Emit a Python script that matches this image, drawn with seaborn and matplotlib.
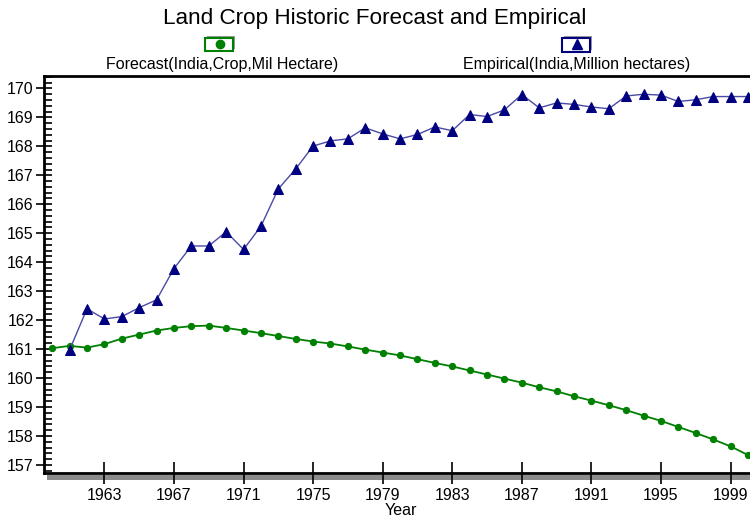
import seaborn as sns
import matplotlib.pyplot as plt
from matplotlib.patches import Rectangle
from matplotlib.lines import Line2D
from matplotlib.ticker import MultipleLocator

# data
years_forecast = list(range(1960, 2001))
forecast = [161.03, 161.11, 161.05, 161.17, 161.36, 161.50, 161.64, 161.73, 161.79, 161.81,
            161.73, 161.64, 161.55, 161.45, 161.35, 161.26, 161.19, 161.09, 160.98, 160.88,
            160.78, 160.65, 160.52, 160.40, 160.26, 160.12, 159.98, 159.84, 159.68, 159.54,
            159.37, 159.22, 159.06, 158.89, 158.70, 158.52, 158.31, 158.10, 157.88, 157.64,
            157.34]

years_empirical = list(range(1961, 2001))
empirical = [160.97, 162.39, 162.04, 162.12, 162.43, 162.70, 163.78, 164.56, 164.56, 165.05,
             164.44, 165.24, 166.53, 167.22, 168.01, 168.19, 168.26, 168.64, 168.43, 168.26,
             168.41, 168.67, 168.54, 169.10, 169.03, 169.26, 169.79, 169.33, 169.50, 169.45,
             169.36, 169.30, 169.74, 169.80, 169.77, 169.55, 169.61, 169.72, 169.72, 169.72]

x_ticks = [1963, 1967, 1971, 1975, 1979, 1983, 1987, 1991, 1995, 1999]
labels = ["Forecast(India,Crop,Mil Hectare)", "Empirical(India,Million hectares)"]

green = "#008000"
navy = "#000080"

sns.set_style("ticks")
plt.rcParams['font.family'] = ['Liberation Sans', 'DejaVu Sans']
plt.rcParams.update({"text.color": "black", "axes.labelcolor": "black",
                     "xtick.color": "black", "ytick.color": "black"})

fig = plt.figure(figsize=(7.5, 5.2), dpi=100)
ax = fig.add_axes([0.058, 0.0904, 0.952, 0.764])

sns.lineplot(x=years_forecast, y=forecast, ax=ax, color=green, lw=1.3,
             marker="o", markersize=4.5, markerfacecolor=green, markeredgecolor=green)
sns.lineplot(x=years_empirical, y=empirical, ax=ax, color="#4a4aa6", lw=1.0,
             marker="^", markersize=7.5, markerfacecolor=navy, markeredgecolor=navy)

ax.set_xlim(1959.5, 2000.55)
ax.set_ylim(156.72, 170.44)
ax.set_xticks(x_ticks)
ax.yaxis.set_major_locator(MultipleLocator(1))
ax.yaxis.set_minor_locator(MultipleLocator(0.2))
ax.tick_params(axis="y", which="major", direction="inout", length=12, width=1.2,
               labelsize=11.5, pad=1)
ax.tick_params(axis="y", which="minor", direction="in", length=6, width=1.2)
ax.tick_params(axis="x", which="major", direction="inout", length=16, width=1.2,
               labelsize=11.5, pad=3)
ax.set_xlabel("Year", fontsize=11.5, labelpad=0)
ax.set_ylabel("")

for s in ["left", "bottom", "top", "right"]:
    ax.spines[s].set_visible(True)
    ax.spines[s].set_linewidth(2)
    ax.spines[s].set_color("black")

# drop shadow under the plot frame
ax.add_patch(Rectangle((0.005, -0.0165), 1.0, 0.0125, transform=ax.transAxes,
                       facecolor="#8c8c8c", edgecolor="none", clip_on=False, zorder=0))

fig.suptitle("Land Crop Historic Forecast and Empirical", y=0.985, fontsize=16.2)

# legend drawn as boxed icons above the labels
W, H = 750.0, 520.0
icons = [(219.5, 44, green, "o", 6), (576.5, 44.5, navy, "^", 7)]
text_x = [222, 577]
for (cx, cy, col, mk, ms), tx, lab in zip(icons, text_x, labels):
    fig.patches.append(Rectangle(((cx - 12.5) / W, 1 - (cy + 5) / H), 28 / W, 13 / H,
                                 transform=fig.transFigure, facecolor="#9a9a9a",
                                 edgecolor="none"))
    fig.patches.append(Rectangle(((cx - 14.5) / W, 1 - (cy + 7) / H), 28 / W, 13 / H,
                                 transform=fig.transFigure, facecolor="white",
                                 edgecolor=col, lw=1.5))
    fig.lines.append(Line2D([cx / W], [1 - (cy - 0.5) / H], transform=fig.transFigure,
                            marker=mk, markersize=ms, color=col, linestyle=""))
    fig.text(tx / W, 1 - 64 / H, lab, ha="center", va="center", fontsize=11.5)

fig.savefig("out.png", dpi=100)
